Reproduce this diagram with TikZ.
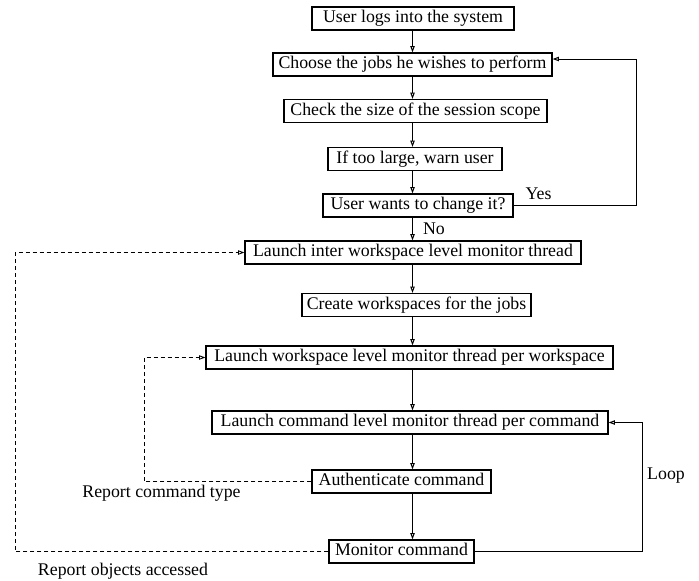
\documentclass[tikz,border=0pt]{standalone}
\usepackage{fontspec}
\setmainfont{Liberation Serif}
\usetikzlibrary{arrows.meta,positioning}

\begin{document}
\begin{tikzpicture}
[x=0.5pt, y=-0.5pt, ->, >={Triangle[open,length=3.2pt,width=2.2pt]},
line width=0.5pt,
font=\fontsize{8.9}{10.7}\selectfont,
every node/.style={inner sep=0pt},
box/.style={draw, line width=0.55pt, minimum height=11.5pt, text height=6.2pt, text depth=1.9pt},
report/.style={dash pattern=on 2pt off 1.5pt, line width=0.45pt}
]
  \useasboundingbox (0,0) rectangle (699,580);

  \node[box, minimum width=101pt]   (login)    at (413,18.5)   {User logs into the system};
  \node[box, minimum width=139.5pt] (choose)   at (412.5,64.5) {Choose the jobs he wishes to perform};
  \node[box, minimum width=131.5pt] (check)    at (415.5,111)  {Check the size of the session scope};
  \node[box, minimum width=87pt]    (warn)     at (415,159)    {If too large, warn user};
  \node[box, minimum width=95pt]    (change)   at (418,205.5)  {User wants to change it?};
  \node[box, minimum width=168pt]   (interws)  at (413,252.5)  {Launch inter workspace level monitor thread};
  \node[box, minimum width=114.5pt] (createws) at (416.5,305)  {Create workspaces for the jobs};
  \node[box, minimum width=203.5pt] (wsmon)    at (409.5,357.5) {Launch workspace level monitor thread per workspace};
  \node[box, minimum width=198pt]   (cmdmon)   at (410,422.5)  {Launch command level monitor thread per command};
  \node[box, minimum width=89.5pt]  (auth)     at (401.5,481.5) {Authenticate command};
  \node[box, minimum width=72.5pt]  (monitor)  at (401.5,551.5) {Monitor command};

  \node (yes)  at (538.5,194) {Yes};
  \node (loop) at (666,476)   {Loop};
  \node (cmdtype) at (161.5,493) {Report command type};
  \node (objacc)  at (123,571.5) {Report objects accessed};

  \coordinate (ax)     at (412.5,0);
  \coordinate (yesc)   at (636,59);
  \coordinate (loopc)  at (642,0);
  \coordinate (typec)  at (144,0);
  \coordinate (objc)   at (15,0);

  \path
	(login.south -| ax)    edge (choose.north -| ax)
	(choose.south -| ax)   edge (check.north -| ax)
	(check.south -| ax)    edge (warn.north -| ax)
	(warn.south -| ax)     edge (change.north -| ax)
	(change.south -| ax)   edge node[right=5pt] {No} (interws.north -| ax)
	(interws.south -| ax)  edge (createws.north -| ax)
	(createws.south -| ax) edge (wsmon.north -| ax)
	(wsmon.south -| ax)    edge (cmdmon.north -| ax)
	(cmdmon.south -| ax)   edge (auth.north -| ax)
	(auth.south -| ax)     edge (monitor.north -| ax)
    ;

  \draw (change.east) -| (yesc) -- (yesc -| choose.east);
  \draw (monitor.east) -| (loopc |- cmdmon.east) -- (cmdmon.east);
  \draw[report] (auth.west) -| (typec |- wsmon.west) -- (wsmon.west);
  \draw[report] (monitor.west) -| (objc |- interws.west) -- (interws.west);
\end{tikzpicture}
\end{document}
